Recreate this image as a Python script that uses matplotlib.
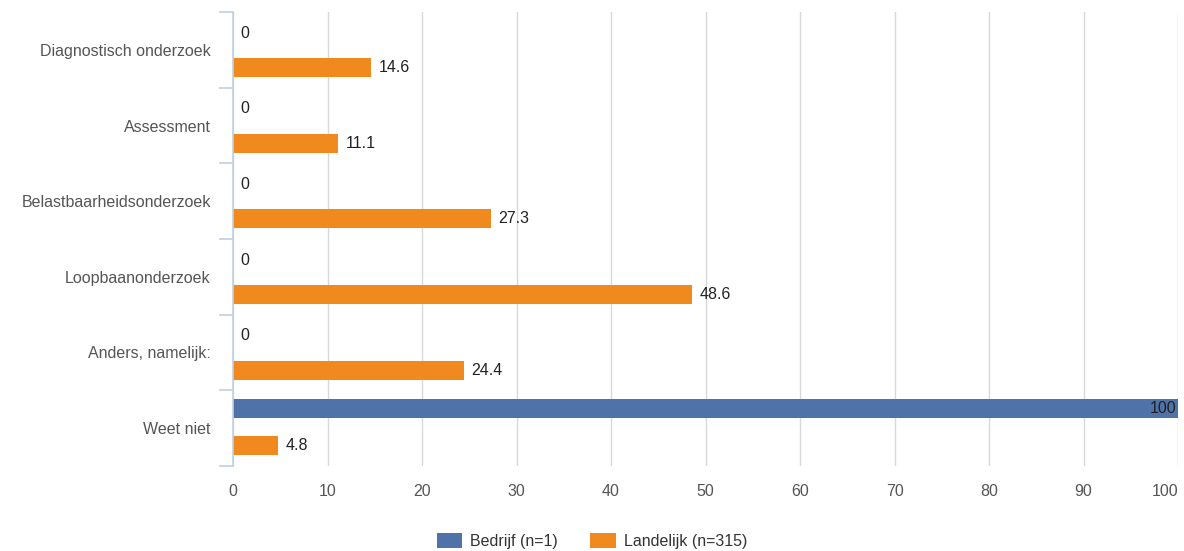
import numpy as np
import matplotlib.pyplot as plt

categories = ["Diagnostisch onderzoek", "Assessment", "Belastbaarheidsonderzoek",
              "Loopbaanonderzoek", "Anders, namelijk:", "Weet niet"]
bedrijf = [0, 0, 0, 0, 0, 100]
landelijk = [14.6, 11.1, 27.3, 48.6, 24.4, 4.8]
series_names = ["Bedrijf (n=1)", "Landelijk (n=315)"]
xticks = list(range(0, 101, 10))

plt.rcParams['font.family'] = ['Liberation Sans', 'DejaVu Sans']

fig = plt.figure(figsize=(11.84, 5.51), dpi=100)
ax = fig.add_axes([0.1968, 0.1543, 0.7982, 0.8239])

y = np.arange(len(categories))
h = 0.25
b1 = ax.barh(y - 0.26, bedrijf, height=h, color="#4f72a8", label=series_names[0])
b2 = ax.barh(y + 0.235, landelijk, height=h, color="#f08a1f", label=series_names[1])

fs = 11.5
for yi, v in zip(y, bedrijf):
    if v >= 90:
        ax.text(v - 0.2, yi - 0.26, "%g" % v, va="center", ha="right", fontsize=fs, color="#222222")
    else:
        ax.text(v + 0.8, yi - 0.22, "%g" % v, va="center", ha="left", fontsize=fs, color="#222222")
for yi, v in zip(y, landelijk):
    ax.text(v + 0.8, yi + 0.235, "%g" % v, va="center", ha="left", fontsize=fs, color="#222222")

ax.set_xlim(0, 100)
ax.set_ylim(len(categories) - 0.5, -0.5)
ax.set_xticks(xticks)
ax.set_yticks(y)
ax.set_yticklabels(categories)
ax.tick_params(axis="y", length=0, pad=16, labelsize=fs, labelcolor="#555555")
ax.tick_params(axis="x", length=0, pad=13, labelsize=fs, labelcolor="#555555")
ax.get_xticklabels()[-1].set_ha("right")

ax.set_yticks(np.arange(-0.5, len(categories)), minor=True)
ax.tick_params(axis="y", which="minor", length=10, color="#c0d0e0", width=1.2)

ax.grid(axis="x", color="#d8d8d8", linewidth=1)
ax.set_axisbelow(True)
for s in ["top", "right", "bottom"]:
    ax.spines[s].set_visible(False)
ax.spines["left"].set_color("#c0d0e0")
ax.spines["left"].set_linewidth(1.2)

fig.legend(handles=[b1, b2], labels=series_names, loc="lower center", ncol=2,
           bbox_to_anchor=(0.5, -0.022), frameon=False, fontsize=fs, handlelength=1.6,
           handleheight=1.1, handletextpad=0.5, columnspacing=2.0, labelcolor="#333333")

fig.savefig("out.png", dpi=100)
